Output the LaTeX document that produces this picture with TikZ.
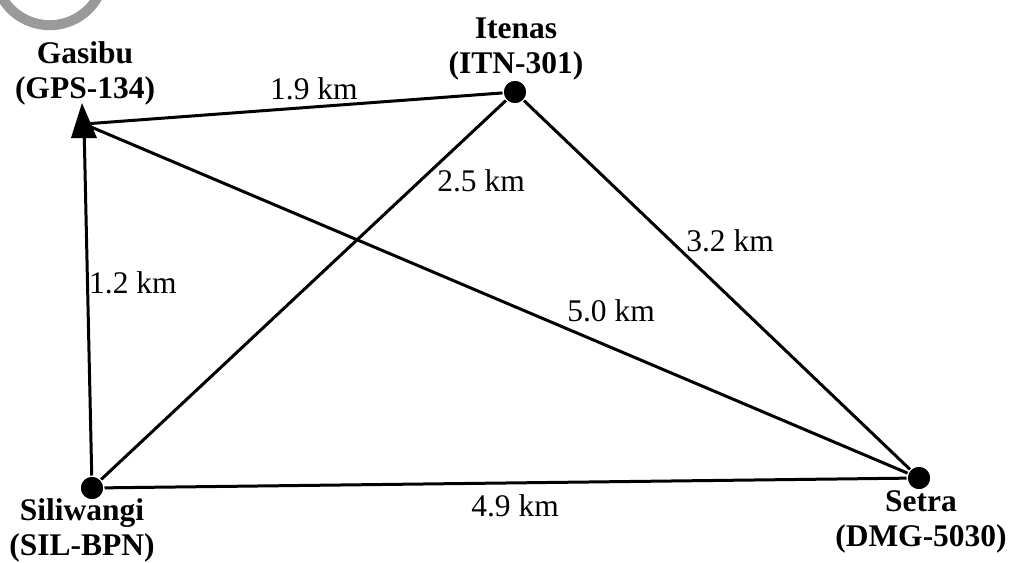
\documentclass[tikz,border=0pt]{standalone}
\usepackage{fontspec}
\setmainfont{Liberation Serif}
\usetikzlibrary{calc}
\definecolor{ink}{HTML}{000000}
\definecolor{smudge}{HTML}{9A9A9A}

\begin{document}
\begin{tikzpicture}[x=.5pt,y=-.5pt,line width=1.5pt,
  stn/.style={circle,fill=ink,inner sep=0pt,minimum size=11pt},
  place/.style={font=\fontsize{15.75}{17.5}\selectfont\bfseries,align=center,inner sep=0pt},
  dist/.style={font=\fontsize{15.75}{17.5}\selectfont,inner sep=0pt}]
  \useasboundingbox (0,0) rectangle (1019,563);
  % faint remnant of a logo in the corner
  \draw[smudge,line width=5pt] (-2,-11) arc[start angle=160,end angle=20,radius=55];
  \coordinate (gasibu) at (84,124);
  \node[stn] (itenas) at (515,92) {};
  \node[stn] (siliwangi) at (92,488) {};
  \node[stn] (setra) at (919,478) {};
  \draw[ink] (gasibu)--(itenas);
  \draw[ink] (gasibu)--(setra);
  \draw[ink] (siliwangi)--(gasibu);
  \draw[ink] (siliwangi)--(itenas);
  \draw[ink] (itenas)--(setra);
  \draw[ink] (siliwangi)--(setra);
  \fill[ink] ($(gasibu)+(-2,-21)$)--($(gasibu)+(13,14)$)--($(gasibu)+(-13,14)$)--cycle;
  \node[stn] at (itenas) {};
  \node[stn] at (siliwangi) {};
  \node[stn] at (setra) {};
  \node[place] (gasibu-l) at (85,73) {Gasibu\\(GPS-134)};
  \node[place] (itenas-l) at (516,49) {Itenas\\(ITN-301)};
  \node[place] (siliwangi-l) at (82,530) {Siliwangi\\(SIL-BPN)};
  \node[place] (setra-l) at (921,522) {Setra\\(DMG-5030)};
  \node[dist] (d1) at (314,89) {1.9 km};
  \node[dist] (d2) at (481,181) {2.5 km};
  \node[dist] (d3) at (730,241) {3.2 km};
  \node[dist] (d4) at (133,283) {1.2 km};
  \node[dist] (d5) at (611,311) {5.0 km};
  \node[dist] (d6) at (515,506) {4.9 km};
\end{tikzpicture}
\end{document}
